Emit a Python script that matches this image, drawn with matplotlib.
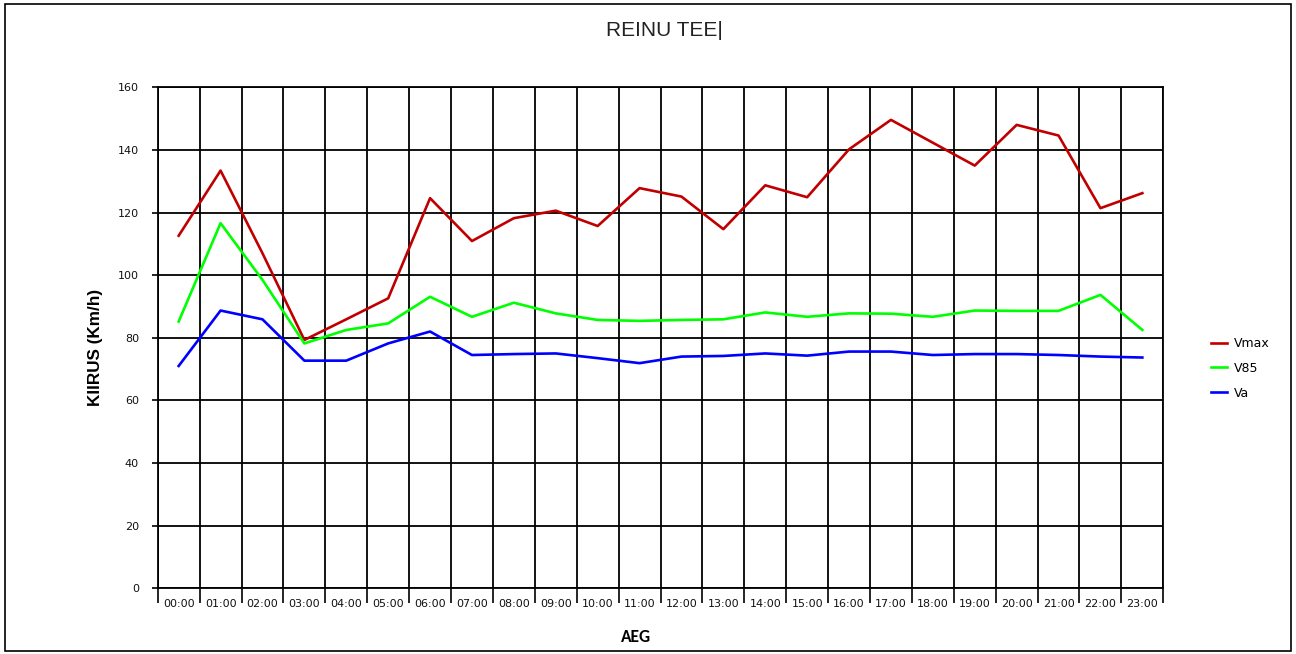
import matplotlib.pyplot as plt
import matplotlib.patches as patches
import numpy as np

# data
hours = ['00:00', '01:00', '02:00', '03:00', '04:00', '05:00', '06:00', '07:00',
         '08:00', '09:00', '10:00', '11:00', '12:00', '13:00', '14:00', '15:00',
         '16:00', '17:00', '18:00', '19:00', '20:00', '21:00', '22:00', '23:00']
vmax = [112.6, 133.4, 107.0, 79.3, 85.9, 92.6, 124.6, 110.9, 118.2, 120.6, 115.7, 127.8,
        125.1, 114.7, 128.7, 124.9, 140.2, 149.6, 142.3, 135.0, 148.0, 144.6, 121.4, 126.2]
v85 = [85.2, 116.6, 98.5, 78.2, 82.5, 84.6, 93.1, 86.7, 91.2, 87.8, 85.7, 85.4,
       85.7, 85.9, 88.1, 86.7, 87.8, 87.7, 86.7, 88.7, 88.6, 88.6, 93.7, 82.5]
va = [71.0, 88.7, 85.9, 72.7, 72.7, 78.2, 82.0, 74.5, 74.8, 75.0, 73.5, 71.9,
      74.0, 74.2, 75.0, 74.3, 75.6, 75.6, 74.5, 74.8, 74.8, 74.5, 74.0, 73.7]
yticks = [0, 20, 40, 60, 80, 100, 120, 140, 160]

fig = plt.figure(figsize=(12.96, 6.54), dpi=100)
ax = fig.add_axes([0.1217, 0.1005, 0.8976 - 0.1217, 0.8665 - 0.1005])

x = np.arange(len(hours)) + 0.5
ax.plot(x, vmax, color='#C00000', lw=1.9, label='Vmax')
ax.plot(x, v85, color='#00FF00', lw=1.9, label='V85')
ax.plot(x, va, color='#0000FF', lw=1.9, label='Va')

ax.set_xlim(0, len(hours))
ax.set_ylim(0, 160)
ax.set_yticks(yticks)
ax.set_xticks(np.arange(len(hours) + 1))
ax.set_xticklabels([])
ax.set_xticks(x, minor=True)
ax.set_xticklabels(hours, minor=True)
ax.tick_params(axis='x', which='major', direction='out', length=11, width=1.2, color='black')
ax.tick_params(axis='x', which='minor', length=0, pad=8, labelsize=8, labelcolor='#111111')
ax.tick_params(axis='y', direction='out', length=4.5, width=1.2, labelsize=8, pad=9, labelcolor='#111111')

ax.grid(True, which='major', color='black', lw=1.3)
ax.set_axisbelow(True)
for s in ax.spines.values():
    s.set_color('black')
    s.set_linewidth(1.3)

fig.text(95 / 1296, 1 - 347 / 654, 'KIIRUS (Km/h)', rotation=90, ha='center', va='center',
         fontsize=12.3, fontweight='bold', family='Liberation Sans')
fig.text(636 / 1296, 1 - 637 / 654, 'AEG', ha='center', va='center',
         fontsize=12.5, fontweight='bold', family=['Carlito', 'Liberation Sans'])

fig.text(0.513, 0.953, 'REINU TEE|', ha='center', va='center', fontsize=15,
         family=['Liberation Sans Narrow', 'Liberation Sans'], color='#222222')

leg = ax.legend(loc='upper left', bbox_to_anchor=(0.9306, 0.4924), bbox_transform=fig.transFigure,
                frameon=False, handlelength=1.28, labelspacing=0.95, handletextpad=0.56,
                borderaxespad=0, prop={'family': 'DejaVu Sans', 'size': 9})

# outer frame
fig.patches.append(patches.Rectangle((0.004, 0.004), 0.992, 0.99, transform=fig.transFigure,
                                     fill=False, edgecolor='black', lw=1.2))

fig.savefig('out.png', dpi=100)
